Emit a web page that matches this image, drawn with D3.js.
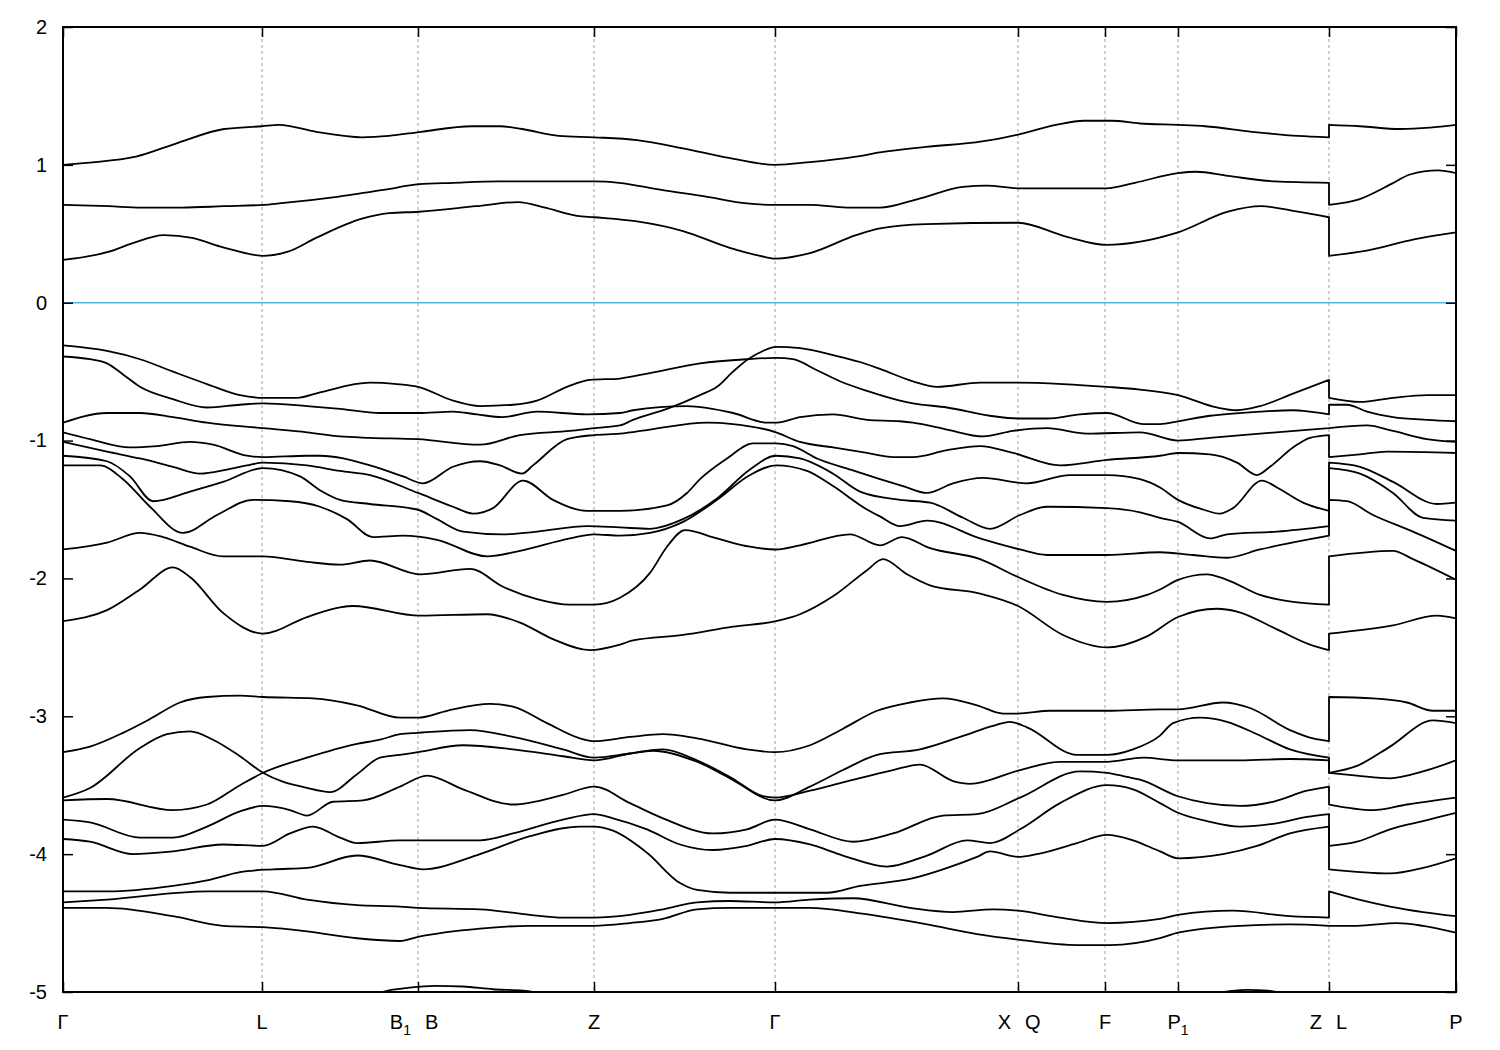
<!DOCTYPE html>
<html><head><meta charset="utf-8">
<script src="https://cdn.jsdelivr.net/npm/d3@7"></script>
<style>body{margin:0;background:#fff}svg{display:block}text{font-family:"Liberation Sans",Arial,sans-serif;fill:#000}</style>
</head><body><svg id="c" width="1500" height="1050"></svg>
<script>
// k-path positions (arb. units, x1000) and labels
const kTicks = [0,199,355,531,712,955,1042,1115,1266,1393];
const kLabels = ["Γ","L","B_1|B","Z","Γ","X|Q","F","P_1","Z|L","P"];
const yTicks = [2,1,0,-1,-2,-3,-4,-5];

// conduction bands [k, E(eV)]
const bandC3 = [[0,1.00],[46,1.03],[73,1.06],[115,1.16],[161,1.26],[199,1.28],[216,1.29],[253,1.24],[299,1.20],[326,1.21],[358,1.24],[409,1.28],[437,1.28],[459,1.26],[496,1.21],[531,1.20],[574,1.18],[620,1.12],[666,1.05],[712,1.00],[747,1.02],[793,1.06],[817,1.09],[863,1.13],[919,1.17],[955,1.22],[993,1.29],[1021,1.32],[1049,1.32],[1077,1.30],[1115,1.29],[1142,1.28],[1189,1.24],[1235,1.21],[1266,1.20],[1266,1.29],[1297,1.28],[1337,1.26],[1367,1.27],[1393,1.29]];
const bandC2 = [[0,0.71],[46,0.70],[78,0.69],[119,0.69],[161,0.70],[201,0.71],[216,0.72],[276,0.77],[322,0.82],[356,0.86],[390,0.87],[436,0.88],[531,0.88],[556,0.87],[597,0.82],[643,0.77],[684,0.72],[712,0.71],[747,0.71],[784,0.69],[817,0.69],[854,0.75],[900,0.84],[924,0.85],[955,0.83],[1043,0.83],[1072,0.87],[1115,0.94],[1133,0.95],[1165,0.92],[1212,0.88],[1266,0.87],[1266,0.71],[1296,0.75],[1328,0.86],[1347,0.93],[1375,0.96],[1393,0.94]];
const bandC1 = [[0,0.31],[46,0.37],[69,0.43],[101,0.49],[129,0.47],[161,0.40],[201,0.34],[225,0.37],[253,0.47],[299,0.61],[326,0.65],[356,0.66],[413,0.70],[455,0.73],[482,0.69],[514,0.63],[531,0.62],[574,0.59],[620,0.52],[666,0.40],[697,0.34],[712,0.32],[747,0.36],[793,0.49],[817,0.54],[863,0.57],[955,0.58],[1003,0.48],[1043,0.42],[1115,0.51],[1165,0.66],[1198,0.70],[1235,0.66],[1266,0.62],[1266,0.34],[1305,0.38],[1351,0.46],[1393,0.51]];

// upper valence bands
const bandV1 = [[0,-0.31],[44,-0.35],[77,-0.41],[110,-0.50],[144,-0.59],[177,-0.67],[200,-0.69],[234,-0.69],[257,-0.65],[307,-0.58],[334,-0.59],[355,-0.61],[390,-0.71],[417,-0.75],[450,-0.74],[474,-0.71],[504,-0.61],[527,-0.56],[557,-0.55],[587,-0.51],[637,-0.44],[684,-0.41],[713,-0.40],[730,-0.41],[754,-0.49],[777,-0.57],[804,-0.64],[837,-0.71],[850,-0.73],[884,-0.76],[927,-0.82],[955,-0.84],[984,-0.84],[1017,-0.81],[1044,-0.80],[1080,-0.88],[1097,-0.88],[1115,-0.86],[1147,-0.82],[1197,-0.79],[1230,-0.78],[1247,-0.79],[1266,-0.81],[1266,-0.74],[1284,-0.74],[1304,-0.79],[1330,-0.83],[1364,-0.85],[1393,-0.86]];
const bandV2 = [[0,-0.39],[27,-0.41],[44,-0.44],[60,-0.52],[77,-0.61],[110,-0.70],[144,-0.76],[177,-0.74],[200,-0.73],[244,-0.75],[277,-0.77],[317,-0.80],[355,-0.80],[390,-0.79],[414,-0.81],[439,-0.83],[474,-0.79],[524,-0.81],[557,-0.80],[570,-0.78],[624,-0.75],[670,-0.80],[704,-0.87],[714,-0.87],[737,-0.83],[770,-0.81],[804,-0.85],[837,-0.86],[850,-0.87],[884,-0.92],[920,-0.97],[950,-0.93],[984,-0.91],[1024,-0.95],[1077,-0.94],[1115,-1.00],[1147,-0.98],[1197,-0.95],[1247,-0.92],[1266,-0.91],[1266,-0.91],[1304,-0.89],[1330,-0.93],[1364,-0.99],[1393,-1.01]];
const bandV3 = [[0,-0.87],[44,-0.80],[77,-0.80],[110,-0.83],[144,-0.87],[200,-0.91],[244,-0.94],[277,-0.97],[307,-0.98],[355,-0.99],[417,-1.03],[457,-0.96],[507,-0.93],[531,-0.91],[557,-0.89],[570,-0.85],[604,-0.77],[637,-0.67],[654,-0.61],[670,-0.50],[685,-0.41],[700,-0.35],[713,-0.32],[737,-0.33],[770,-0.38],[797,-0.43],[817,-0.48],[850,-0.57],[874,-0.61],[917,-0.58],[955,-0.58],[1000,-0.59],[1044,-0.61],[1077,-0.63],[1115,-0.67],[1154,-0.76],[1174,-0.78],[1197,-0.75],[1230,-0.66],[1266,-0.56],[1266,-0.69],[1297,-0.72],[1330,-0.69],[1364,-0.67],[1393,-0.67]];
const bandV4 = [[0,-0.94],[27,-0.99],[67,-1.05],[94,-1.04],[127,-1.01],[150,-1.03],[184,-1.11],[200,-1.12],[244,-1.11],[257,-1.11],[307,-1.18],[340,-1.26],[360,-1.31],[390,-1.19],[417,-1.15],[437,-1.18],[459,-1.24],[470,-1.18],[504,-0.99],[531,-0.96],[557,-0.95],[587,-0.92],[644,-0.87],[670,-0.88],[713,-0.94],[737,-1.01],[770,-1.05],[804,-1.09],[830,-1.12],[850,-1.12],[884,-1.07],[917,-1.04],[950,-1.09],[997,-1.18],[1044,-1.14],[1097,-1.11],[1115,-1.09],[1147,-1.10],[1174,-1.16],[1194,-1.25],[1207,-1.19],[1230,-1.05],[1247,-0.98],[1266,-0.96],[1266,-1.12],[1297,-1.10],[1324,-1.08],[1393,-1.09]];
const bandV5 = [[0,-1.01],[44,-1.08],[77,-1.13],[110,-1.19],[137,-1.24],[164,-1.21],[184,-1.18],[200,-1.16],[244,-1.18],[277,-1.22],[307,-1.25],[355,-1.38],[390,-1.48],[410,-1.53],[430,-1.49],[460,-1.29],[490,-1.43],[524,-1.51],[557,-1.51],[604,-1.47],[624,-1.38],[637,-1.28],[664,-1.13],[690,-1.02],[713,-1.02],[730,-1.04],[754,-1.13],[787,-1.21],[817,-1.28],[840,-1.33],[864,-1.38],[890,-1.31],[920,-1.27],[964,-1.31],[1007,-1.25],[1044,-1.25],[1077,-1.28],[1097,-1.34],[1115,-1.43],[1140,-1.50],[1157,-1.53],[1170,-1.49],[1199,-1.29],[1214,-1.34],[1240,-1.45],[1266,-1.51],[1266,-1.16],[1297,-1.19],[1330,-1.30],[1374,-1.46],[1393,-1.45]];
const bandV6 = [[0,-1.11],[44,-1.15],[67,-1.26],[90,-1.44],[127,-1.37],[160,-1.30],[200,-1.20],[237,-1.26],[257,-1.36],[277,-1.43],[307,-1.46],[354,-1.50],[374,-1.57],[400,-1.66],[440,-1.68],[474,-1.66],[524,-1.62],[557,-1.63],[587,-1.64],[620,-1.57],[654,-1.42],[687,-1.21],[713,-1.11],[737,-1.13],[770,-1.24],[797,-1.37],[837,-1.43],[867,-1.45],[900,-1.56],[927,-1.64],[957,-1.54],[984,-1.48],[1044,-1.49],[1077,-1.52],[1097,-1.56],[1115,-1.59],[1147,-1.71],[1164,-1.68],[1214,-1.66],[1266,-1.62],[1266,-1.20],[1297,-1.24],[1330,-1.38],[1360,-1.56],[1393,-1.58]];
const bandV7 = [[0,-1.18],[37,-1.18],[60,-1.28],[87,-1.48],[120,-1.67],[154,-1.54],[190,-1.43],[227,-1.44],[257,-1.48],[284,-1.57],[310,-1.70],[340,-1.69],[374,-1.72],[424,-1.84],[457,-1.80],[507,-1.71],[531,-1.68],[557,-1.69],[587,-1.67],[620,-1.59],[654,-1.43],[687,-1.25],[713,-1.18],[744,-1.22],[770,-1.33],[804,-1.50],[817,-1.55],[837,-1.62],[864,-1.58],[917,-1.71],[957,-1.79],[984,-1.83],[1044,-1.83],[1097,-1.81],[1130,-1.83],[1164,-1.85],[1197,-1.79],[1266,-1.69],[1266,-1.43],[1284,-1.44],[1310,-1.54],[1350,-1.66],[1393,-1.80]];
const bandV8 = [[0,-1.79],[44,-1.74],[77,-1.67],[100,-1.70],[127,-1.77],[160,-1.84],[200,-1.84],[244,-1.88],[277,-1.90],[307,-1.87],[357,-1.97],[407,-1.93],[440,-2.06],[474,-2.15],[507,-2.19],[531,-2.19],[557,-2.14],[587,-1.96],[604,-1.77],[622,-1.65],[654,-1.71],[687,-1.77],[713,-1.79],[737,-1.76],[787,-1.68],[817,-1.76],[839,-1.70],[867,-1.78],[917,-1.86],[955,-1.99],[1000,-2.12],[1044,-2.17],[1084,-2.12],[1097,-2.08],[1115,-2.01],[1144,-1.97],[1164,-2.01],[1197,-2.12],[1230,-2.17],[1266,-2.19],[1266,-1.84],[1330,-1.80],[1350,-1.86],[1393,-2.01]];
const bandV9 = [[0,-2.31],[44,-2.23],[77,-2.08],[110,-1.92],[127,-1.99],[160,-2.25],[200,-2.40],[244,-2.28],[277,-2.21],[290,-2.20],[357,-2.27],[424,-2.26],[457,-2.32],[490,-2.44],[527,-2.52],[557,-2.48],[570,-2.45],[620,-2.41],[670,-2.35],[713,-2.31],[737,-2.26],[770,-2.13],[804,-1.94],[820,-1.86],[844,-1.97],[867,-2.05],[917,-2.11],[955,-2.20],[1000,-2.41],[1044,-2.50],[1084,-2.42],[1115,-2.28],[1154,-2.22],[1174,-2.24],[1214,-2.37],[1247,-2.48],[1266,-2.52],[1266,-2.40],[1330,-2.34],[1374,-2.27],[1393,-2.29]];

// lower valence bands
const bandW1 = [[0,-3.26],[27,-3.22],[60,-3.12],[87,-3.02],[117,-2.90],[144,-2.86],[177,-2.85],[200,-2.86],[250,-2.87],[294,-2.92],[337,-3.01],[355,-3.01],[384,-2.96],[427,-2.91],[450,-2.93],[484,-3.05],[517,-3.16],[531,-3.18],[567,-3.15],[600,-3.13],[634,-3.16],[684,-3.24],[712,-3.26],[747,-3.21],[780,-3.09],[814,-2.96],[847,-2.90],[880,-2.87],[914,-2.92],[940,-2.98],[955,-2.98],[987,-2.96],[1044,-2.96],[1097,-2.95],[1115,-2.95],[1160,-2.90],[1187,-2.94],[1227,-3.10],[1250,-3.16],[1266,-3.18],[1266,-2.86],[1310,-2.87],[1344,-2.90],[1370,-2.96],[1393,-2.96]];
const bandW2 = [[0,-3.59],[27,-3.52],[77,-3.23],[104,-3.13],[127,-3.11],[150,-3.17],[177,-3.29],[200,-3.41],[244,-3.52],[267,-3.55],[294,-3.42],[317,-3.30],[337,-3.28],[355,-3.26],[400,-3.21],[450,-3.24],[500,-3.29],[531,-3.32],[567,-3.27],[590,-3.25],[634,-3.33],[667,-3.45],[712,-3.61],[747,-3.51],[780,-3.39],[814,-3.28],[857,-3.24],[897,-3.15],[930,-3.07],[947,-3.04],[964,-3.08],[1014,-3.28],[1044,-3.28],[1070,-3.24],[1097,-3.14],[1110,-3.05],[1137,-3.01],[1164,-3.04],[1194,-3.13],[1227,-3.24],[1266,-3.30],[1266,-3.41],[1294,-3.36],[1327,-3.22],[1370,-3.03],[1393,-3.05]];
const bandW3 = [[0,-3.61],[44,-3.60],[110,-3.68],[144,-3.64],[177,-3.50],[200,-3.41],[244,-3.30],[294,-3.20],[317,-3.17],[337,-3.13],[355,-3.12],[407,-3.10],[450,-3.15],[500,-3.24],[531,-3.30],[567,-3.27],[600,-3.24],[634,-3.32],[667,-3.44],[700,-3.58],[712,-3.59],[747,-3.54],[780,-3.48],[830,-3.39],[857,-3.35],[890,-3.47],[907,-3.49],[957,-3.39],[997,-3.33],[1044,-3.33],[1080,-3.30],[1115,-3.32],[1177,-3.32],[1227,-3.31],[1266,-3.32],[1266,-3.41],[1294,-3.43],[1327,-3.45],[1360,-3.40],[1393,-3.32]];
const bandW4 = [[0,-3.75],[27,-3.77],[77,-3.88],[110,-3.88],[144,-3.80],[177,-3.69],[200,-3.65],[227,-3.68],[244,-3.72],[270,-3.62],[300,-3.61],[337,-3.51],[364,-3.43],[400,-3.53],[450,-3.64],[500,-3.57],[531,-3.51],[567,-3.63],[600,-3.74],[650,-3.85],[684,-3.82],[712,-3.75],[747,-3.82],[790,-3.91],[830,-3.85],[880,-3.72],[914,-3.71],[957,-3.59],[1017,-3.40],[1044,-3.41],[1064,-3.44],[1077,-3.46],[1115,-3.58],[1144,-3.63],[1177,-3.65],[1210,-3.62],[1244,-3.54],[1266,-3.51],[1266,-3.64],[1310,-3.68],[1344,-3.64],[1393,-3.59]];
const bandW5 = [[0,-3.89],[27,-3.91],[70,-4.00],[110,-3.98],[160,-3.93],[200,-3.94],[227,-3.85],[250,-3.80],[277,-3.88],[294,-3.92],[337,-3.90],[355,-3.90],[417,-3.90],[450,-3.85],[500,-3.75],[531,-3.71],[550,-3.74],[584,-3.82],[617,-3.93],[650,-3.97],[684,-3.94],[712,-3.89],[747,-3.93],[780,-4.01],[824,-4.09],[864,-4.01],[904,-3.90],[927,-3.92],[957,-3.82],[997,-3.63],[1044,-3.50],[1070,-3.53],[1097,-3.63],[1115,-3.70],[1144,-3.76],[1177,-3.80],[1210,-3.78],[1244,-3.73],[1266,-3.71],[1266,-3.94],[1294,-3.91],[1327,-3.82],[1360,-3.76],[1393,-3.70]];
const bandW6 = [[0,-4.27],[44,-4.27],[110,-4.23],[144,-4.19],[177,-4.13],[210,-4.11],[244,-4.10],[294,-4.01],[337,-4.08],[360,-4.11],[417,-4.00],[467,-3.87],[517,-3.80],[531,-3.80],[550,-3.83],[584,-3.99],[617,-4.21],[634,-4.26],[667,-4.28],[712,-4.28],[764,-4.28],[797,-4.23],[847,-4.18],[880,-4.11],[914,-4.02],[927,-3.98],[955,-4.02],[974,-4.00],[1014,-3.92],[1044,-3.86],[1070,-3.90],[1097,-3.98],[1115,-4.03],[1160,-4.00],[1194,-3.94],[1227,-3.85],[1266,-3.80],[1266,-4.11],[1327,-4.14],[1360,-4.10],[1393,-4.03]];
const bandW7 = [[0,-4.35],[44,-4.33],[144,-4.27],[200,-4.27],[244,-4.33],[294,-4.37],[337,-4.38],[355,-4.39],[417,-4.40],[467,-4.44],[500,-4.46],[531,-4.46],[567,-4.44],[600,-4.40],[634,-4.35],[667,-4.34],[712,-4.35],[747,-4.33],[790,-4.32],[847,-4.39],[890,-4.42],[930,-4.40],[955,-4.41],[997,-4.46],[1044,-4.50],[1097,-4.47],[1115,-4.44],[1170,-4.41],[1227,-4.45],[1266,-4.46],[1266,-4.27],[1296,-4.33],[1327,-4.38],[1360,-4.42],[1393,-4.45]];
const bandW8 = [[0,-4.39],[44,-4.39],[110,-4.45],[160,-4.52],[200,-4.53],[244,-4.56],[294,-4.61],[337,-4.63],[355,-4.60],[417,-4.54],[467,-4.52],[531,-4.52],[567,-4.50],[600,-4.47],[634,-4.40],[667,-4.39],[712,-4.39],[747,-4.39],[797,-4.43],[864,-4.51],[914,-4.58],[955,-4.62],[1014,-4.66],[1047,-4.66],[1097,-4.61],[1115,-4.57],[1177,-4.52],[1227,-4.51],[1266,-4.52],[1266,-4.52],[1294,-4.52],[1334,-4.50],[1360,-4.52],[1393,-4.57]];
// deep band just grazing the bottom edge
const bandD1 = [[305,-5.03],[325,-4.99],[345,-4.97],[372,-4.955],[400,-4.96],[430,-4.98],[460,-4.99],[485,-5.02]];
const bandD2 = [[1140,-5.02],[1165,-4.995],[1185,-4.985],[1205,-4.99],[1225,-5.02]];

const bands = [bandC3,bandC2,bandC1,bandV1,bandV2,bandV3,bandV4,bandV5,bandV6,bandV7,bandV8,bandV9,
  bandW1,bandW2,bandW3,bandW4,bandW5,bandW6,bandW7,bandW8,bandD1,bandD2];

const svg = d3.select("#c");
const x = d3.scaleLinear().domain([0,1393]).range([63,1456]);
const y = d3.scaleLinear().domain([-5,2]).range([992,27]);

svg.append("defs").append("clipPath").attr("id","clip").append("rect")
  .attr("x",x(0)).attr("y",y(2)).attr("width",x(1393)-x(0)).attr("height",y(-5)-y(2));

// dotted vertical lines at high-symmetry points
svg.append("g").selectAll("line").data(kTicks.slice(1,-1)).join("line")
  .attr("x1",d=>x(d)).attr("x2",d=>x(d)).attr("y1",y(2)).attr("y2",y(-5))
  .attr("stroke","#a0a0a0").attr("stroke-width",1).attr("stroke-dasharray","3,3");

// Fermi level
svg.append("line").attr("x1",x(0)).attr("x2",x(1393)).attr("y1",y(0)).attr("y2",y(0))
  .attr("stroke","#56b4e9").attr("stroke-width",1.5);

const line = d3.line().x(d=>x(d[0])).y(d=>y(d[1])).curve(d3.curveMonotoneX);
function bandPath(b){
  let i = 1;
  while(i < b.length && b[i][0] !== b[i-1][0]) i++;
  if(i >= b.length) return line(b);
  return line(b.slice(0,i)) + line(b.slice(i)).replace(/^M/,"L");
}
svg.append("g").attr("clip-path","url(#clip)").selectAll("path").data(bands).join("path")
  .attr("d",bandPath).attr("fill","none").attr("stroke","#000").attr("stroke-width",1.8)
  .attr("stroke-linejoin","round");

// axes (inward ticks, mirrored)
function styleAxis(g){ g.select(".domain").remove(); g.selectAll(".tick line").attr("stroke","#000").attr("stroke-width",1.5); }
svg.append("g").attr("transform",`translate(${x(0)},0)`)
  .call(d3.axisLeft(y).tickValues(yTicks).tickSize(-10).tickPadding(16).tickFormat(d=>String(d)))
  .call(styleAxis).call(g=>g.selectAll("text").attr("font-size",20).attr("font-family","Liberation Sans, Arial, sans-serif"));
svg.append("g").attr("transform",`translate(${x(1393)},0)`)
  .call(d3.axisRight(y).tickValues(yTicks).tickSize(-10).tickFormat(""))
  .call(styleAxis);
svg.append("g").attr("transform",`translate(0,${y(-5)})`)
  .call(d3.axisBottom(x).tickValues(kTicks).tickSize(-10).tickFormat(""))
  .call(styleAxis);
svg.append("g").attr("transform",`translate(0,${y(2)})`)
  .call(d3.axisTop(x).tickValues(kTicks).tickSize(-10).tickFormat(""))
  .call(styleAxis);

// frame
svg.append("rect").attr("x",x(0)).attr("y",y(2)).attr("width",x(1393)-x(0)).attr("height",y(-5)-y(2))
  .attr("fill","none").attr("stroke","#000").attr("stroke-width",2);

// k-point labels
function addLabel(sel, str, anchor, xpos){
  const t = sel.append("text").attr("x",xpos).attr("y",1029).attr("text-anchor",anchor).attr("font-size",20);
  const parts = str.split("_");
  t.append("tspan").text(parts[0]);
  if(parts[1]) t.append("tspan").attr("dy",6).attr("font-size",14).text(parts[1]);
}
const lab = svg.append("g");
kTicks.forEach((k,i)=>{
  const s = kLabels[i];
  if(s.includes("|")){
    const [a,b] = s.split("|");
    addLabel(lab,a,"end",x(k)-7);
    addLabel(lab,b,"start",x(k)+7);
  } else addLabel(lab,s,"middle",x(k));
});
</script>
</body></html>
